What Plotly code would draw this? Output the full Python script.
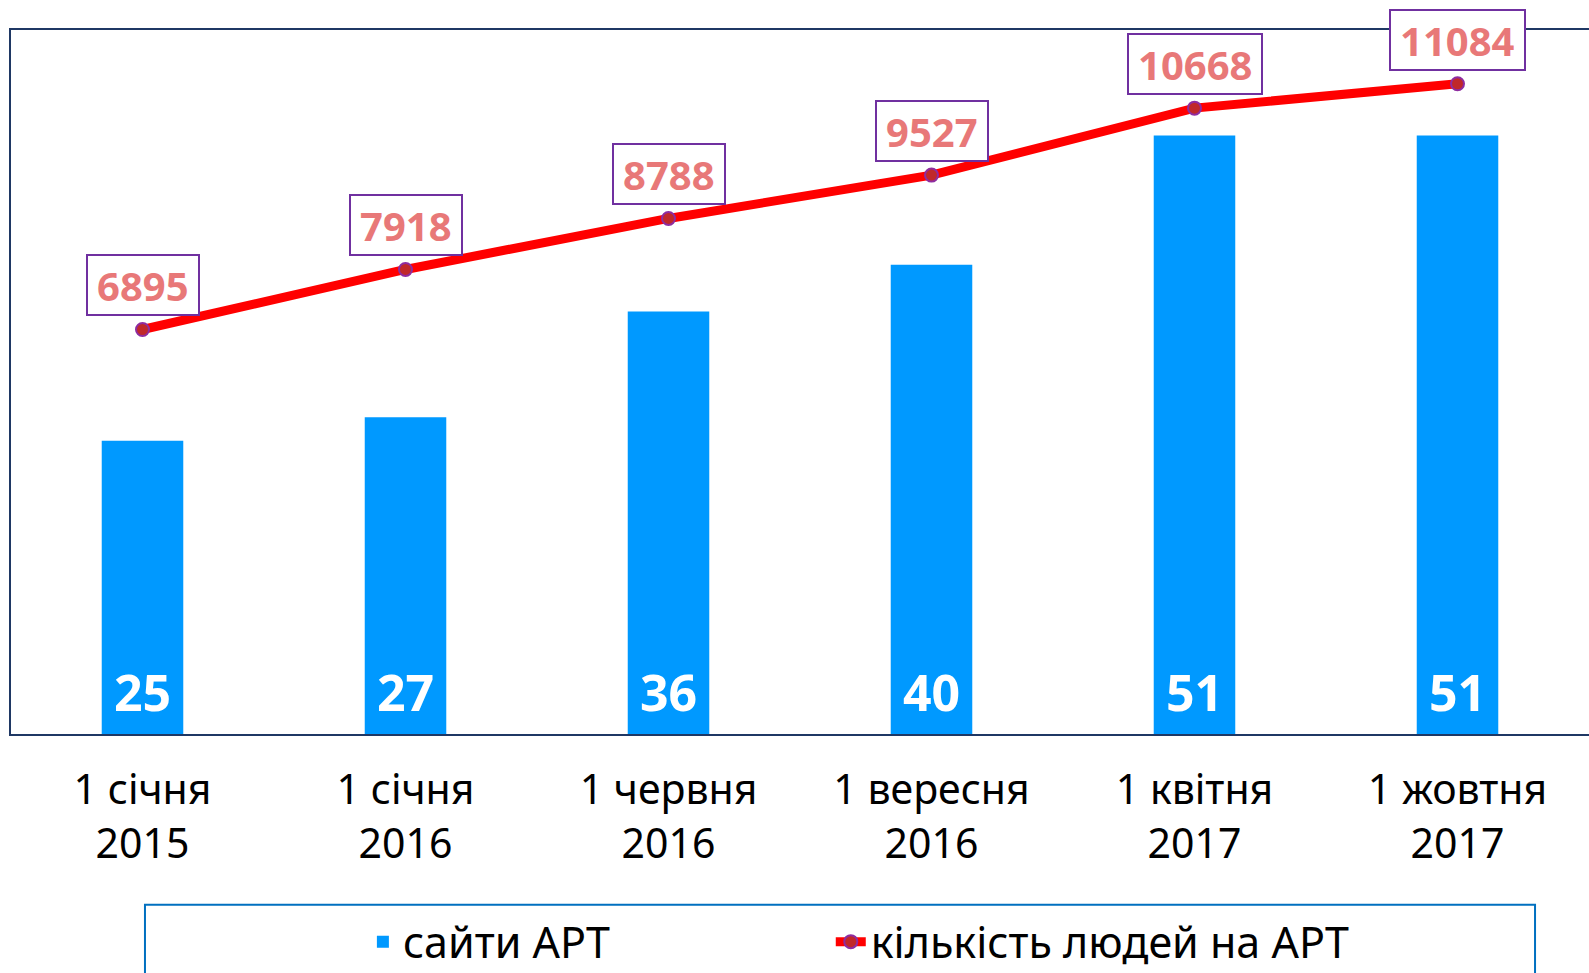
import plotly.graph_objects as go

categories = ["1 січня<br>2015", "1 січня<br>2016", "1 червня<br>2016",
              "1 вересня<br>2016", "1 квітня<br>2017", "1 жовтня<br>2017"]
sites = [25, 27, 36, 40, 51, 51]
people = [6895, 7918, 8788, 9527, 10668, 11084]
bar_name = "сайти АРТ"
line_name = "кількість людей на АРТ"

FONT = "Noto Sans"
W, H = 1589, 973
ML, MR, MT, MB = 11, 0, 30, 239

fig = go.Figure()
fig.add_trace(go.Bar(
    x=categories, y=sites, name=bar_name, legend="legend",
    marker=dict(color="#0099FF", line=dict(width=0)),
))
fig.add_trace(go.Scatter(
    x=categories, y=people, name=line_name, yaxis="y2", legend="legend2",
    mode="lines+markers",
    line=dict(color="#FF0000", width=9),
    marker=dict(size=13, color="#C0282A", line=dict(color="#8E2CA0", width=2)),
    cliponaxis=False,
))

# bar value labels at the base of each bar
for c, v in zip(categories, sites):
    fig.add_annotation(
        x=c, y=0, xref="x", yref="y", text=f"<b>{v}</b>",
        showarrow=False, yanchor="bottom", yshift=6,
        font=dict(family=FONT, size=50, color="white"),
    )

# boxed labels above each line point
for c, v in zip(categories, people):
    fig.add_annotation(
        x=c, y=v, xref="x", yref="y2", text=f"<b>{v}</b>",
        showarrow=False, yanchor="bottom", yshift=13,
        font=dict(family=FONT, size=40, color="#E87878"),
        bordercolor="#7030A0", borderwidth=2, borderpad=9,
        height=40, bgcolor="white",
    )

# legend frame
fig.add_shape(type="rect", xref="paper", yref="paper",
              x0=0.0849, x1=0.9658, y0=-0.45, y1=-0.2427,
              line=dict(color="#0070C0", width=2), fillcolor="rgba(0,0,0,0)")

legend_font = dict(family=FONT, size=43, color="black")
fig.update_layout(
    width=W, height=H,
    margin=dict(l=ML, r=MR, t=MT, b=MB, autoexpand=False),
    paper_bgcolor="white", plot_bgcolor="white",
    bargap=0.69,
    showlegend=True,
    legend=dict(x=0.223, xanchor="left", y=-0.295, yanchor="middle",
                font=legend_font, bgcolor="rgba(0,0,0,0)", borderwidth=0),
    legend2=dict(x=0.5195, xanchor="left", y=-0.295, yanchor="middle",
                 font=legend_font, bgcolor="rgba(0,0,0,0)", borderwidth=0),
    xaxis=dict(showline=True, linecolor="#1F3864", linewidth=2, mirror=True,
               showgrid=False, ticks="", ticklabelstandoff=19, automargin=False,
               tickfont=dict(family=FONT, size=41, color="black"),
               range=[-0.5, 5.5]),
    yaxis=dict(range=[0, 60], showline=True, linecolor="#1F3864", linewidth=2,
               showgrid=False, showticklabels=False, ticks="", zeroline=False,
               automargin=False),
    yaxis2=dict(range=[0, 12000], overlaying="y", side="right", showgrid=False,
                showticklabels=False, ticks="", zeroline=False, showline=False,
                automargin=False),
)

fig.write_html("out.html", config={"displayModeBar": False},
               post_script="document.body.style.margin='0';")
